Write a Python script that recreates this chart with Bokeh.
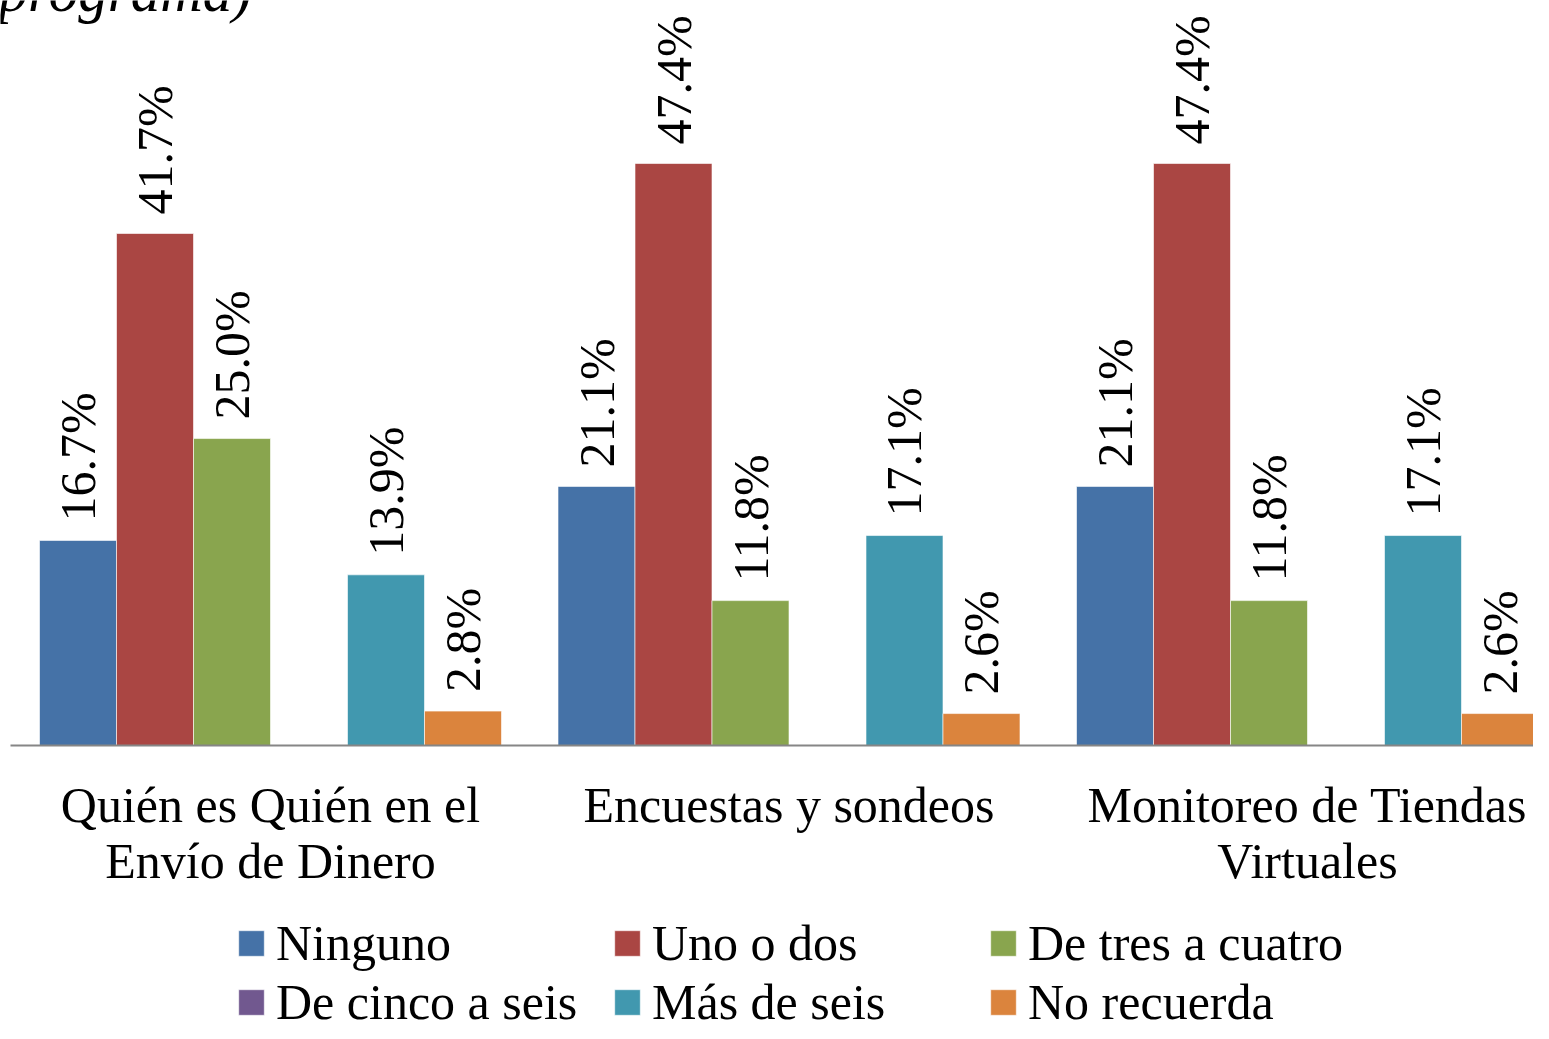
import math
from bokeh.plotting import figure
from bokeh.models import (ColumnDataSource, Range1d, FixedTicker, Legend,
                          LegendItem, Label, LinearAxis)
from bokeh.transform import dodge
from bokeh.core.properties import value
from bokeh.embed import file_html
from bokeh.resources import INLINE

# ---------------- data ----------------
categories_line1 = ["Quién es Quién en el", "Encuestas y sondeos",
                    "Monitoreo de Tiendas"]
categories_line2 = ["Envío de Dinero", "", "Virtuales"]
series_names = ["Ninguno", "Uno o dos", "De tres a cuatro",
                "De cinco a seis", "Más de seis", "No recuerda"]
ninguno = [16.7, 21.1, 21.1]
uno_o_dos = [41.7, 47.4, 47.4]
tres_a_cuatro = [25.0, 11.8, 11.8]
cinco_a_seis = [0.0, 0.0, 0.0]
mas_de_seis = [13.9, 17.1, 17.1]
no_recuerda = [2.8, 2.6, 2.6]
series_values = [ninguno, uno_o_dos, tres_a_cuatro, cinco_a_seis,
                 mas_de_seis, no_recuerda]
colors = ["#4572A7", "#AA4643", "#89A54E", "#71588F", "#4198AF", "#DB843D"]
title_fragment = "programa)"

FONT = "Liberation Serif"
FS = "50px"

W, H = 1533, 1023
PX_PER_CAT = 518.5      # pixels per category
PX_PER_PCT = 12.278     # pixels per percent
ZERO_Y = 745            # canvas row of the baseline
LEFT = 10.75            # canvas x of the first category start

cat_x = [i + 0.5 for i in range(len(categories_line1))]
bar_w = 0.1485

x_range = Range1d(-LEFT / PX_PER_CAT, (W - LEFT) / PX_PER_CAT)
y_range = Range1d(-(H - ZERO_Y) / PX_PER_PCT, ZERO_Y / PX_PER_PCT)

p = figure(width=W, height=H, output_backend="svg", toolbar_location=None,
           x_range=x_range, y_range=y_range,
           min_border_left=0, min_border_right=0, min_border_top=0,
           min_border_bottom=0)
p.outline_line_color = None
p.xgrid.visible = False
p.ygrid.visible = False
p.yaxis.visible = False
p.background_fill_color = "white"
p.border_fill_color = "white"

legend_items = []
for i, (name, vals, col) in enumerate(zip(series_names, series_values, colors)):
    off = (i - 2.5) * bar_w
    src = ColumnDataSource(dict(x=cat_x, top=vals))
    r = p.vbar(x=dodge("x", off, range=p.x_range), top="top", width=bar_w,
               fill_color=col, line_color="white", line_width=0.6, source=src)
    legend_items.append(LegendItem(label=name, renderers=[r]))
    lx = [x for x, v in zip(cat_x, vals) if v > 0]
    lv = [v for v in vals if v > 0]
    lsrc = ColumnDataSource(dict(x=lx, y=lv, t=[f"{v:.1f}%" for v in lv]))
    p.text(x=dodge("x", off, range=p.x_range), y="y", text="t", source=lsrc,
           angle=math.pi / 2, text_align="left", text_baseline="middle",
           y_offset=-19, text_font=value(FONT), text_font_size=FS,
           text_color="black")


def style_axis(ax, labels, standoff, line=True):
    ax.ticker = FixedTicker(ticks=cat_x)
    ax.major_label_overrides = {x: c for x, c in zip(cat_x, labels)}
    ax.fixed_location = 0
    ax.bounds = (-0.75 / PX_PER_CAT, x_range.end)
    ax.axis_line_color = "#868686" if line else None
    ax.axis_line_width = 2
    ax.major_tick_line_color = None
    ax.minor_tick_line_color = None
    ax.major_tick_out = 0
    ax.major_tick_in = 0
    ax.major_label_standoff = standoff
    ax.major_label_text_font = FONT
    ax.major_label_text_font_size = FS
    ax.major_label_text_color = "black"


style_axis(p.xaxis[0], categories_line1, 31)
ax2 = LinearAxis()
style_axis(ax2, categories_line2, 87, line=False)
p.add_layout(ax2, "below")

legend = Legend(items=legend_items, orientation="horizontal", ncols=3,
                location=(235, H - 1031), glyph_width=32, glyph_height=32,
                label_standoff=9, label_width=334, label_height=56,
                spacing=1, padding=0, margin=0,
                border_line_color=None, background_fill_alpha=0,
                label_text_font=FONT, label_text_font_size=FS,
                label_text_color="black")
p.add_layout(legend, "center")

p.add_layout(Label(x=-2, y=H + 10, x_units="screen", y_units="screen",
                   text=title_fragment, text_font=FONT,
                   text_font_style="italic", text_font_size="59px",
                   text_color="black", text_baseline="alphabetic"))

open("out.html", "w").write(file_html(p, INLINE))
